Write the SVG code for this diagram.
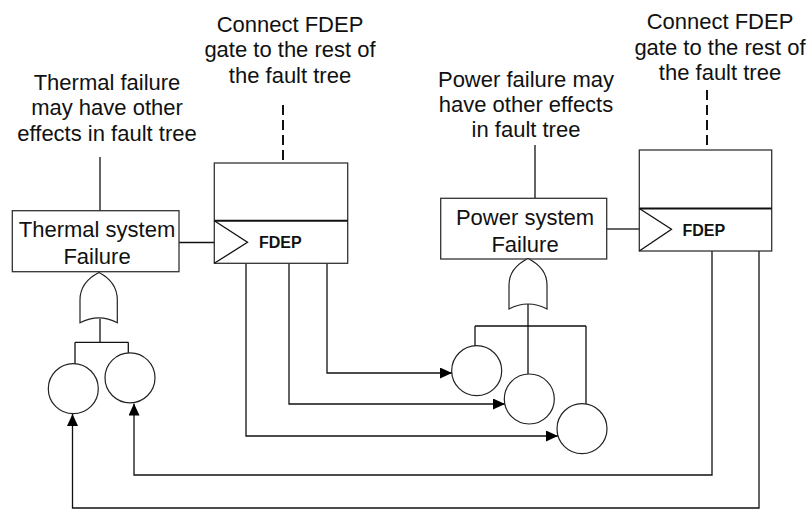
<svg xmlns="http://www.w3.org/2000/svg" width="809" height="510" viewBox="0 0 809 510">
<style>
  .txt { font-family: "Liberation Sans", Arial, sans-serif; font-size: 22px; fill: #111; text-anchor: middle; }
  .lbl { font-family: "Liberation Sans", Arial, sans-serif; font-size: 16px; font-weight: bold; fill: #111; }
  .box { fill: #fff; stroke: #333; stroke-width: 1.3; }
  .ln { fill: none; stroke: #111; stroke-width: 1.3; }
  .thick { fill: none; stroke: #111; stroke-width: 2; }
  .dash { fill: none; stroke: #111; stroke-width: 2; stroke-dasharray: 10 5; }
  .arr { fill: none; stroke: #111; stroke-width: 1.3; marker-end: url(#ah); }
  .gate { fill: #fff; stroke: #222; stroke-width: 1.2; }
  .ev { fill: #fff; stroke: #222; stroke-width: 1.2; }
</style>
<defs>
  <marker id="ah" markerWidth="12" markerHeight="11" refX="12" refY="5.5" orient="auto" markerUnits="userSpaceOnUse">
    <path d="M0,0 L12,5.5 L0,11 Z" fill="#000"/>
  </marker>
</defs>
<rect width="809" height="510" fill="#fff"/>

<g id="note-connect-left">
  <text class="txt" x="290" y="32">Connect FDEP</text>
  <text class="txt" x="290" y="57">gate to the rest of</text>
  <text class="txt" x="290" y="83">the fault tree</text>
</g>
<g id="note-thermal">
  <text class="txt" x="107" y="90">Thermal failure</text>
  <text class="txt" x="107" y="115">may have other</text>
  <text class="txt" x="107" y="141">effects in fault tree</text>
</g>
<g id="note-power">
  <text class="txt" x="526" y="87">Power failure may</text>
  <text class="txt" x="526" y="112">have other effects</text>
  <text class="txt" x="526" y="137">in fault tree</text>
</g>
<g id="note-connect-right">
  <text class="txt" x="720" y="29">Connect FDEP</text>
  <text class="txt" x="720" y="55">gate to the rest of</text>
  <text class="txt" x="720" y="80">the fault tree</text>
</g>

<g id="connectors">
  <path class="dash" d="M283,105 V163"/>
  <path class="dash" d="M707,90 V150"/>
  <path class="ln" d="M100,157 V211"/>
  <path class="ln" d="M535,145 V198"/>
  <path class="ln" d="M179,242.5 H214"/>
  <path class="ln" d="M607,229 H639"/>
  <path class="ln" d="M100,319 V342.3 M75,342.3 H128.3 M75,342.3 V363.7 M128.3,342.3 V353"/>
  <path class="ln" d="M528,304 V374 M475,326 H586 M475,326 V346 M586,326 V404"/>
  <path class="arr" d="M327,263 V373 H452"/>
  <path class="arr" d="M289,263 V404 H505"/>
  <path class="arr" d="M246,263 V436 H558"/>
  <path class="arr" d="M712,251 V475 H134 V403.5"/>
  <path class="arr" d="M759,251 V508 H72.5 V414"/>
</g>

<g id="fdep-left">
  <rect class="box" x="214.3" y="163" width="133.4" height="100.3"/>
  <path class="thick" d="M214.3,220.7 H347.7"/>
  <path class="ln" d="M214.3,220.7 L247.5,242.3 L214.3,263.3"/>
  <text class="lbl" x="259" y="248">FDEP</text>
</g>
<g id="fdep-right">
  <rect class="box" x="639.3" y="150" width="132.4" height="101"/>
  <path class="thick" d="M639.3,208.5 H771.7"/>
  <path class="ln" d="M639.3,208.5 L671.5,229.3 L639.3,251"/>
  <text class="lbl" x="682.5" y="236">FDEP</text>
</g>

<g id="thermal-system">
  <rect class="box" x="12.3" y="210.7" width="166.7" height="61"/>
  <text class="txt" x="97" y="237">Thermal system</text>
  <text class="txt" x="97" y="264">Failure</text>
</g>
<g id="power-system">
  <rect class="box" x="440.7" y="198.3" width="166" height="60.7"/>
  <text class="txt" x="525" y="225">Power system</text>
  <text class="txt" x="525" y="252">Failure</text>
</g>

<g id="or-thermal">
  <path class="gate" d="M80,322.7 V300 Q80,282 99,272.5 Q117.3,282 117.3,300 V322.7 Q99,313 80,322.7 Z"/>
</g>
<g id="or-power">
  <path class="gate" d="M509,309 V285 Q509,268 528,258.5 Q547,268 547,285 V309 Q528,299 509,309 Z"/>
</g>

<g id="event-t1"><circle class="ev" cx="73.3" cy="388.7" r="25"/></g>
<g id="event-t2"><circle class="ev" cx="130" cy="377.8" r="25"/></g>
<g id="event-pa"><circle class="ev" cx="476.7" cy="370.7" r="25"/></g>
<g id="event-pb"><circle class="ev" cx="529.3" cy="399" r="25"/></g>
<g id="event-pc"><circle class="ev" cx="582" cy="428.7" r="25"/></g>
</svg>
